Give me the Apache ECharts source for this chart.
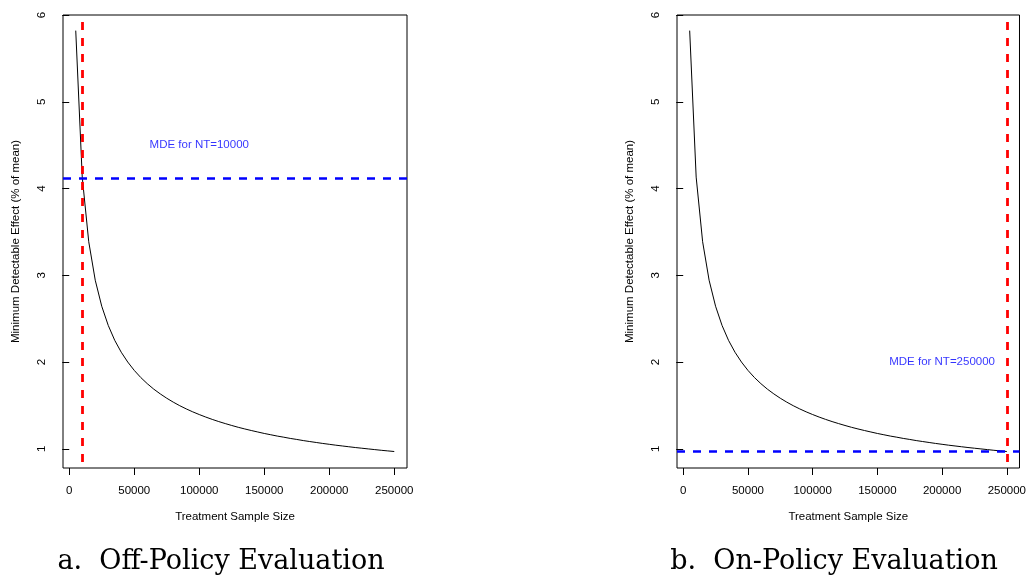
<!DOCTYPE html>
<html>
<head>
<meta charset="utf-8">
<style>
html,body{margin:0;padding:0;background:#fff;}
#chart{width:1029px;height:583px;}
</style>
<script src="https://cdn.jsdelivr.net/npm/echarts@6/dist/echarts.min.js"></script>
</head>
<body>
<div id="chart"></div>
<script>
// Treatment sample sizes (x) and minimum detectable effect (% of mean)
const sampleSizes = [5000,10000,15000,20000,25000,30000,35000,40000,45000,50000,
  55000,60000,65000,70000,75000,80000,85000,90000,95000,100000,
  105000,110000,115000,120000,125000,130000,135000,140000,145000,150000,
  155000,160000,165000,170000,175000,180000,185000,190000,195000,200000,
  205000,210000,215000,220000,225000,230000,235000,240000,245000,250000];
const mdeValues = [5.820,4.132,3.387,2.944,2.644,2.423,2.251,2.114,2.001,1.905,
  1.823,1.752,1.689,1.634,1.584,1.539,1.498,1.461,1.427,1.396,
  1.367,1.340,1.315,1.292,1.270,1.249,1.230,1.212,1.195,1.178,
  1.163,1.148,1.135,1.121,1.109,1.096,1.085,1.074,1.063,1.053,
  1.043,1.034,1.025,1.016,1.008,1.000,0.992,0.984,0.977,0.970];
const xTicks = [0,50000,100000,150000,200000,250000];
const yTicks = [1,2,3,4,5,6];
const panelTitles = ['a.  Off-Policy Evaluation','b.  On-Policy Evaluation'];
const ntValues = [10000, 250000];          // vertical red lines
const mdeAtNt = [4.12, 0.97];              // horizontal blue lines
const annoText = ['MDE for NT=10000','MDE for NT=250000'];
const annoPos = [[100000, 4.5],[200000, 2.0]];

const xMin = -4800, xMax = 259800, yMin = 0.78, yMax = 6.0;
const lineData = sampleSizes.map((x,i)=>[x, mdeValues[i]]);
const sans = 'Liberation Sans, Arial, sans-serif';

const chart = echarts.init(document.getElementById('chart'), null, {renderer:'canvas'});
const grids = [], xAxes = [], yAxes = [], series = [], graphics = [];
const lefts = [63, 677];
for (let p = 0; p < 2; p++) {
  grids.push({left: lefts[p], top: 15, width: 344, height: 453, show: true,
    borderColor: '#000', borderWidth: 1, backgroundColor: 'transparent'});
  xAxes.push({type:'value', gridIndex:p, min:xMin, max:xMax,
    name:'Treatment Sample Size', nameLocation:'middle', nameGap:43,
    nameTextStyle:{fontFamily:sans, fontSize:11.5, color:'#000'},
    axisLine:{show:false}, splitLine:{show:false},
    axisTick:{show:true, inside:false, length:7, customValues:xTicks, lineStyle:{color:'#000', width:1}},
    axisLabel:{show:true, customValues:xTicks, margin:16.5, fontFamily:sans, fontSize:11.5, color:'#000',
      formatter:(v)=>String(v)}});
  yAxes.push({type:'value', gridIndex:p, min:yMin, max:yMax,
    name:'Minimum Detectable Effect (% of mean)', nameLocation:'middle', nameGap:41, nameRotate:90,
    nameTextStyle:{fontFamily:sans, fontSize:11.5, color:'#000'},
    axisLine:{show:false}, splitLine:{show:false},
    axisTick:{show:true, inside:false, length:7, customValues:yTicks, lineStyle:{color:'#000', width:1}},
    axisLabel:{show:true, customValues:yTicks, rotate:90, margin:15, fontFamily:sans, fontSize:11.5, color:'#000',
      formatter:(v)=>String(v)}});
  series.push({type:'line', xAxisIndex:p, yAxisIndex:p, data:lineData, showSymbol:false, symbol:'none',
    lineStyle:{color:'#000', width:1}, silent:true, z:2,
    markLine:{silent:true, symbol:['none','none'], animation:false, label:{show:false}, z:3,
      data:[
        [{coord:[ntValues[p], 5.92], lineStyle:{color:'#ff0000', width:2.8, type:[8,8]}},
         {coord:[ntValues[p], yMin]}],
        [{coord:[xMin, mdeAtNt[p]], lineStyle:{color:'#0000ff', width:2.6, type:[8,8]}},
         {coord:[xMax, mdeAtNt[p]]}]
      ]}});
  series.push({type:'scatter', xAxisIndex:p, yAxisIndex:p, data:[annoPos[p]], symbolSize:1,
    itemStyle:{color:'rgba(0,0,0,0)'}, silent:true,
    label:{show:true, position:'inside', formatter:annoText[p], color:'#0000ff', fontFamily:sans, fontSize:11.5}});
}
graphics.push({type:'text', x:221, y:562, style:{text:panelTitles[0], font:'27px "DejaVu Serif", serif', fill:'#000', textAlign:'center', textVerticalAlign:'middle'}});
graphics.push({type:'text', x:834, y:562, style:{text:panelTitles[1], font:'27px "DejaVu Serif", serif', fill:'#000', textAlign:'center', textVerticalAlign:'middle'}});

chart.setOption({animation:false, backgroundColor:'#fff', grid:grids, xAxis:xAxes, yAxis:yAxes, series:series, graphic:graphics});
</script>
</body>
</html>
